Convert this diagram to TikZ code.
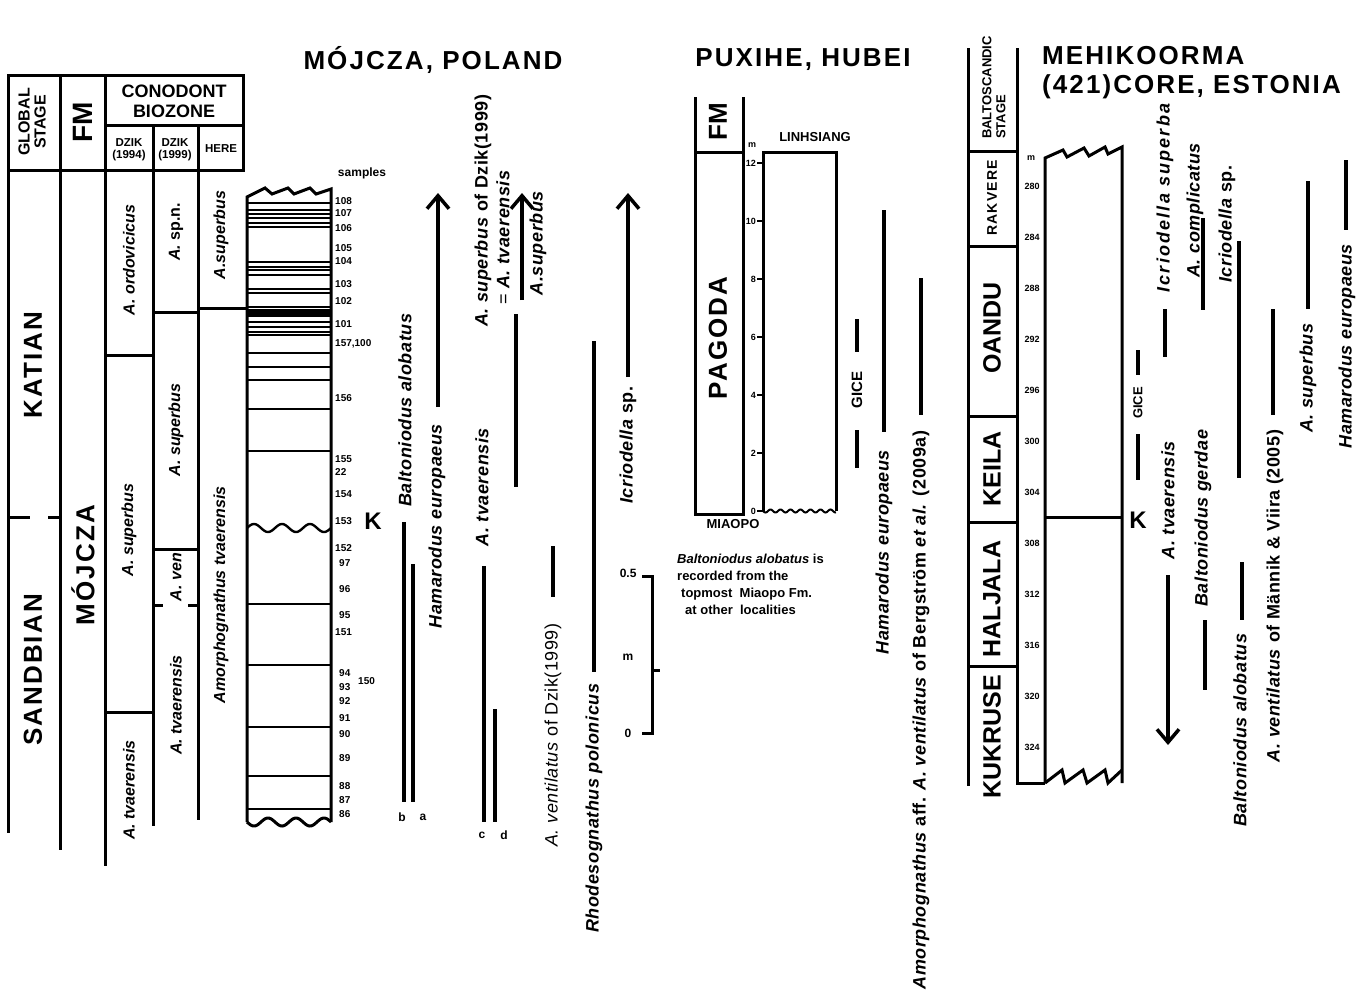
\documentclass[tikz,border=0pt]{standalone}
\usepackage{fontspec}
\setmainfont{Liberation Sans}
\newfontfamily\widefont[LetterSpace=8]{Liberation Sans}
\newfontfamily\taxonfont[LetterSpace=3]{Liberation Sans}
\usetikzlibrary{arrows.meta}

\newcommand{\ttl}{\widefont\bfseries\fontsize{26}{28}\selectfont}
\newcommand{\tax}{\taxonfont\bfseries\fontsize{18}{20}\selectfont}
\newcommand{\zone}{\bfseries\fontsize{16}{18}\selectfont}
\newcommand{\smp}{\bfseries\fontsize{10}{11}\selectfont}
\newcommand{\stg}{\bfseries\fontsize{25}{25}\selectfont}

\tikzset{
  colline/.style={line width=3pt},
  bed/.style={line width=2.4pt},
  rangebar/.style={line width=3.5pt},
  rangearrow/.style={line width=3.5pt, -{Straight Barb[length=13pt, width=22pt]}},
  vtext/.style={rotate=90, inner sep=0pt},
  taxonlbl/.style={vtext, font=\tax},
  zonelbl/.style={vtext, font=\zone},
  stagelbl/.style={vtext, font=\ttl},
  smplbl/.style={anchor=west, inner sep=0pt, font=\smp},
}

\begin{document}
\begin{tikzpicture}[x=1pt, y=-1pt]
\useasboundingbox (0,0) rectangle (1367,1001);

% titles
\node[font=\ttl] (tmoj) at (433,60) {MÓJCZA, POLAND};
\node[font=\ttl] (tpux) at (803,60) {PUXIHE, HUBEI};
\node[font=\ttl, anchor=west, inner sep=0pt] (test1) at (1042,56) {MEHIKOORMA};
\node[font=\ttl, anchor=west, inner sep=0pt] (test2) at (1042,87) {(421)CORE, ESTONIA};

% Mojcza: table head
\draw[colline] (8,75) rectangle (243,170);
\draw[colline] (60,75) -- (60,170) (105,75) -- (105,170) (105,125) -- (243,125)
  (153,125) -- (153,170) (198,125) -- (198,170);
\node[vtext, align=center, font=\bfseries\fontsize{16}{16}\selectfont] (hgs) at (32,122) {GLOBAL\\STAGE};
\node[vtext, font=\bfseries\fontsize{28}{28}\selectfont] (hfm) at (83,122) {FM};
\node[align=center, font=\bfseries\fontsize{18}{20}\selectfont] (hcb) at (174,101) {CONODONT\\BIOZONE};
\node[align=center, font=\bfseries\fontsize{11.5}{12}\selectfont] (hd94) at (129,150) {DZIK\\(1994)};
\node[align=center, font=\bfseries\fontsize{11.5}{12}\selectfont] (hd99) at (175,150) {DZIK\\(1999)};
\node[font=\bfseries\fontsize{11.5}{12}\selectfont] (hhere) at (221,149) {HERE};

% Mojcza: table body
\draw[colline] (8,170) -- (8,833) (60,170) -- (60,850) (105,170) -- (105,866)
  (153,170) -- (153,826) (198,170) -- (198,820);
\draw[colline] (8,517) -- (30,517) (48,517) -- (60,517);
\draw[colline] (105,355) -- (153,355) (105,712) -- (153,712);
\draw[colline] (153,312) -- (198,312) (153,549) -- (198,549);
\draw[colline] (153,605) -- (163,605) (188,605) -- (198,605);
\draw[colline] (198,308) -- (247,308);
\node[stagelbl] (katian) at (33,365) {KATIAN};
\node[stagelbl] (sandb) at (33,670) {SANDBIAN};
\node[stagelbl] (fmmoj) at (83,565) {MÓJCZA};
\node[zonelbl] (z1) at (129,260) {\textit{A. ordovicicus}};
\node[zonelbl] (z2) at (129,530) {\textit{A. superbus}};
\node[zonelbl] (z3) at (129,790) {\textit{A. tvaerensis}};
\node[zonelbl] (z4) at (176,232) {\textit{A.} sp.n.};
\node[zonelbl] (z5) at (176,430) {\textit{A. superbus}};
\node[zonelbl] (z6) at (176,577) {\textit{A. ven}};
\node[zonelbl] (z7) at (176,705) {\textit{A. tvaerensis}};
\node[zonelbl] (z8) at (221,235) {\textit{A.superbus}};
\node[zonelbl] (z9) at (221,595) {\textit{Amorphognathus tvaerensis}};

% Mojcza: section
\draw[colline, line join=miter] (247,822) -- (247,197) -- (265,188) -- (272,194) -- (288,188)
  -- (294,194) -- (310,188) -- (316,194) -- (331,189) -- (331,822);
\foreach \y in {203,210,214,218,223,227,262,267,270,275,289,293,307,322,327,332,335,
  353,367,380,409,451,604,665,727,776,809}
  \draw[bed] (247,\y) -- (331,\y);
\fill (247,309) rectangle (331,317);
\draw[bed] plot[domain=0:84, samples=80] ({247+\x},{528-4*sin(\x*12.857)});
\draw[colline] plot[domain=0:84, samples=80] ({247+\x},{822+4*sin(\x*12.857)});
\node[font=\bfseries\fontsize{12}{12}\selectfont] (samples) at (362,173) {samples};
\foreach \n/\x/\y [count=\i] in {108/335/201, 107/335/213, 106/335/228, 105/335/248,
  104/335/261, 103/335/284, 102/335/301, 101/335/324, {157,100}/335/344, 156/335/398,
  155/335/459, 22/335/472, 154/335/494, 153/335/521, 152/335/548, 97/339/563,
  96/339/589, 95/339/615, 151/335/632, 94/339/673, 93/339/687, 92/339/701, 91/339/718,
  90/339/734, 89/339/758, 88/339/786, 87/339/800, 86/339/814, 150/358/681}
  \node[smplbl] (smp\i) at (\x,\y) {\n};
\node[font=\bfseries\fontsize{24}{24}\selectfont] (kmoj) at (373,521) {K};

% Mojcza: ranges
\node[taxonlbl] (balt) at (405,410) {\textit{Baltoniodus alobatus}};
\draw[rangebar] (404,522) -- (404,802);
\draw[rangebar] (413,564) -- (413,802);
\node[font=\bfseries\fontsize{12}{12}\selectfont] (lb) at (402,817) {b};
\node[font=\bfseries\fontsize{12}{12}\selectfont] (la) at (423,817) {a};
\draw[rangearrow] (438,407) -- (438,193);
\node[taxonlbl] (ham) at (437,526) {\textit{Hamarodus europaeus}};
\node[taxonlbl] (atv) at (482,487) {\textit{A. tvaerensis}};
\draw[rangebar] (484,566) -- (484,822);
\draw[rangebar] (495,709) -- (495,822);
\node[font=\bfseries\fontsize{12}{12}\selectfont] (lc) at (482,835) {c};
\node[font=\bfseries\fontsize{12}{12}\selectfont] (ld) at (504,835) {d};
\node[taxonlbl, anchor=west] (asupd) at (483,327) {\textit{A. superbus} of Dzik(1999)};
\node[taxonlbl, anchor=west] (asupd2) at (503,305) {\mdseries= \bfseries\textit{A. tvaerensis}};
\draw[rangebar] (516,314) -- (516,487);
\draw[rangearrow] (522,300) -- (522,193);
\node[taxonlbl] (asup) at (538,243) {\textit{A.superbus}};
\draw[rangebar] (553,546) -- (553,597);
\node[taxonlbl, font=\taxonfont\mdseries\fontsize{18}{20}\selectfont] (aventd) at (553,735) {\textit{A. ventilatus} of Dzik(1999)};
\draw[rangebar] (594,341) -- (594,672);
\node[taxonlbl] (rhod) at (594,808) {\textit{Rhodesognathus polonicus}};
\draw[rangearrow] (628,377) -- (628,193);
\node[taxonlbl] (icr) at (628,445) {\textit{Icriodella} sp.};

% scale bar
\draw[colline] (642,576) -- (652,576) -- (652,733) -- (642,733) (652,670) -- (660,670);
\node[anchor=east, font=\bfseries\fontsize{12}{12}\selectfont] (s05) at (640,573) {0.5};
\node[font=\bfseries\fontsize{12}{12}\selectfont] (sm) at (628,657) {m};
\node[font=\bfseries\fontsize{12}{12}\selectfont] (s0) at (628,733) {0};

% Puxihe
\draw[colline] (695,97) -- (695,514) -- (743,514) -- (743,97) (695,152) -- (743,152);
\node[vtext, font=\bfseries\fontsize{26}{26}\selectfont] (pfm) at (718,122) {FM};
\node[stagelbl] (pagoda) at (718,338) {PAGODA};
\draw[colline] (763,511) -- (763,152) -- (836,152) -- (836,511);
\draw[line width=2pt] plot[domain=0:73, samples=120] ({763+\x},{511+1.5*sin(\x*36)});
\foreach \m in {0,2,...,12} {
  \draw[line width=2pt] (757,{511-29*\m}) -- (763,{511-29*\m});
  \node[anchor=east, inner sep=1pt, font=\bfseries\fontsize{9}{9}\selectfont] (pt\m) at (757,{511-29*\m}) {\m};
}
\node[font=\bfseries\fontsize{9}{9}\selectfont] (pm) at (752,145) {m};
\node[font=\bfseries\fontsize{13}{13}\selectfont] (linh) at (815,137) {LINHSIANG};
\node[font=\bfseries\fontsize{13}{13}\selectfont] (miao) at (733,524) {MIAOPO};
\node[anchor=north west, align=left, inner sep=0pt, font=\bfseries\fontsize{13}{17}\selectfont] (note) at (677,554)
  {\textit{Baltoniodus alobatus} is\\recorded from the\\\hspace*{4pt}topmost\ \ Miaopo Fm.\\\hspace*{8pt}at other\ \ localities};
\draw[rangebar] (857,319) -- (857,352);
\node[vtext, font=\bfseries\fontsize{15}{15}\selectfont] (gicep) at (857,390) {GICE};
\draw[rangebar] (857,430) -- (857,468);
\draw[rangebar] (884,210) -- (884,432);
\node[taxonlbl] (hamp) at (884,552) {\textit{Hamarodus europaeus}};
\draw[rangebar] (921,278) -- (921,415);
\node[taxonlbl] (amor) at (921,710) {\textit{Amorphognathus} aff. \textit{A. ventilatus} of Bergström \textit{et al.} (2009a)};

% Mehikoorma
\draw[colline] (968,48) -- (968,786) (1017,48) -- (1017,783) -- (1045,783);
\foreach \y in {151,246,416,522,666}
  \draw[colline] (968,\y) -- (1017,\y);
\node[vtext, align=left, anchor=west, font=\bfseries\fontsize{13}{14}\selectfont] (bstage) at (994,139) {BALTOSCANDIC\\STAGE};
\node[vtext, font=\widefont\bfseries\fontsize{14}{14}\selectfont] (rak) at (992,198) {RAKVERE};
\node[vtext, font=\stg] (oandu) at (992,328) {OANDU};
\node[vtext, font=\stg] (keila) at (992,469) {KEILA};
\node[vtext, font=\stg] (halj) at (992,599) {HALJALA};
\node[vtext, font=\stg] (kukr) at (992,737) {KUKRUSE};
\node[font=\bfseries\fontsize{9}{9}\selectfont] (em) at (1031,158) {m};
\foreach \d in {280,284,...,324}
  \node[font=\bfseries\fontsize{9}{9}\selectfont] (ed\d) at (1032,{186+(\d-280)*12.77}) {\d};
\draw[colline, line join=miter] (1045,783) -- (1045,158) -- (1063,150) -- (1067,157) -- (1084,148)
  -- (1089,156) -- (1105,147) -- (1108,154) -- (1122,147) -- (1122,783);
\draw[colline, line join=miter] (1045,783) -- (1062,770) -- (1065,783) -- (1083,770) -- (1087,783)
  -- (1105,770) -- (1108,783) -- (1122,770);
\draw[colline] (1045,517) -- (1122,517);
\node[font=\bfseries\fontsize{24}{24}\selectfont] (kest) at (1138,520) {K};
\draw[rangebar] (1138,350) -- (1138,375);
\node[vtext, font=\bfseries\fontsize{13}{13}\selectfont] (gicee) at (1138,403) {GICE};
\draw[rangebar] (1138,434) -- (1138,480);
\node[taxonlbl] (icrsup) at (1165,197) {\addfontfeature{LetterSpace=12}\textit{Icriodella superba}};
\draw[rangebar] (1165,309) -- (1165,357);
\node[taxonlbl] (acomp) at (1195,210) {\textit{A. complicatus}};
\draw[rangebar] (1203,218) -- (1203,310);
\node[taxonlbl] (icrspe) at (1227,224) {\textit{Icriodella} sp.};
\draw[rangebar] (1239,241) -- (1239,478);
\draw[rangebar] (1273,309) -- (1273,415);
\node[taxonlbl] (aventm) at (1275,596) {\textit{A. ventilatus} of Männik \& Viira (2005)};
\draw[rangebar] (1308,181) -- (1308,309);
\node[taxonlbl] (asupe) at (1308,378) {\textit{A. superbus}};
\draw[rangebar] (1346,160) -- (1346,230);
\node[taxonlbl] (hame) at (1347,346) {\textit{Hamarodus europaeus}};
\node[taxonlbl] (atve) at (1168,500) {\textit{A. tvaerensis}};
\draw[rangearrow] (1168,575) -- (1168,745);
\node[taxonlbl] (bgerd) at (1203,518) {\textit{Baltoniodus gerdae}};
\draw[rangebar] (1205,620) -- (1205,690);
\draw[rangebar] (1242,562) -- (1242,620);
\node[taxonlbl] (balte) at (1240,730) {\textit{Baltoniodus alobatus}};
\end{tikzpicture}
\end{document}
